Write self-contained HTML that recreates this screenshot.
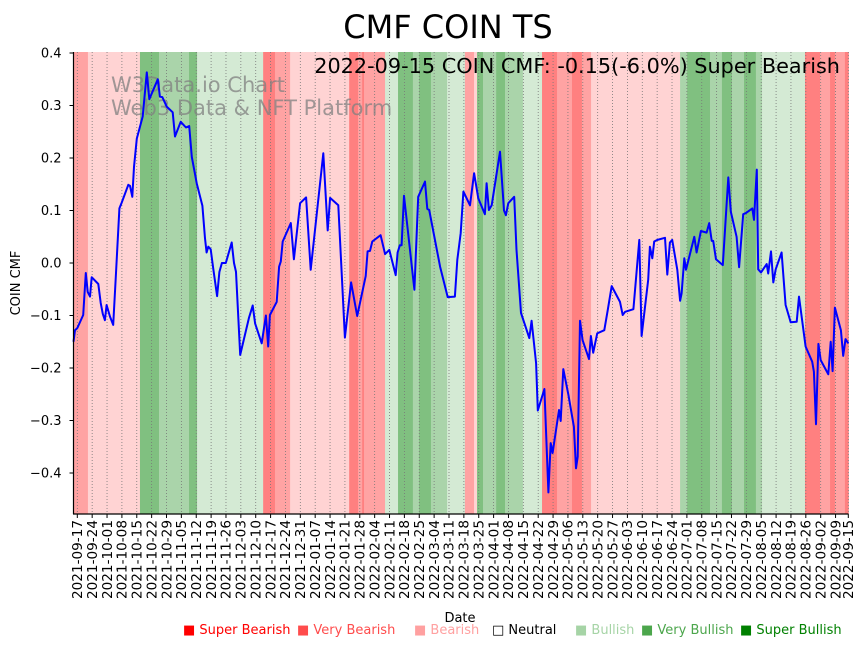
<!DOCTYPE html>
<html><head><meta charset="utf-8"><style>
html,body{margin:0;padding:0;background:#fff;}
svg{display:block;font-family:"DejaVu Sans","Liberation Sans",sans-serif;}
</style></head><body>
<svg id="chart" width="867" height="646" viewBox="0 0 867 646">
<text x="448" y="38" text-anchor="middle" font-size="32">CMF COIN TS</text>
<g id="bands"></g>
<g id="grid"></g>
<text x="111" y="92" font-size="21" fill="#808080" fill-opacity="0.75">W3Data.io Chart</text>
<text x="111" y="115" font-size="21" fill="#808080" fill-opacity="0.75">Web3 Data &amp; NFT Platform</text>
<text x="840" y="73" text-anchor="end" font-size="20.8">2022-09-15 COIN CMF: -0.15(-6.0%) Super Bearish</text>
<polyline id="line" fill="none" stroke="#0000ff" stroke-width="2" stroke-linejoin="round"></polyline>
<g id="yaxis"></g>
<g id="xaxis"></g>
<line x1="73.5" y1="52" x2="73.5" y2="514" stroke="#000" stroke-width="1.2"/>
<line x1="73" y1="514" x2="848.5" y2="514" stroke="#000" stroke-width="1.2"/>
<text transform="translate(20,283) rotate(-90)" text-anchor="middle" font-size="13">COIN CMF</text>
<text x="460" y="622" text-anchor="middle" font-size="13">Date</text>
<g id="legend" font-size="13">
<text x="183" y="634" fill="#ff0000">■ Super Bearish</text>
<text x="297" y="634" fill="#ff4c4c">■ Very Bearish</text>
<text x="414" y="634" fill="#ffa0a0">■ Bearish</text>
<text x="492" y="634" fill="#000">□ Neutral</text>
<text x="575" y="634" fill="#a6d4a6">■ Bullish</text>
<text x="641" y="634" fill="#4ca64c">■ Very Bullish</text>
<text x="740" y="634" fill="#008000">■ Super Bullish</text>
</g>
</svg>
<script>
const tickLabels = ["2021-09-17","2021-09-24","2021-10-01","2021-10-08","2021-10-15","2021-10-22","2021-10-29","2021-11-05","2021-11-12","2021-11-19","2021-11-26","2021-12-03","2021-12-10","2021-12-17","2021-12-24","2021-12-31","2022-01-07","2022-01-14","2022-01-21","2022-01-28","2022-02-04","2022-02-11","2022-02-18","2022-02-25","2022-03-04","2022-03-11","2022-03-18","2022-03-25","2022-04-01","2022-04-08","2022-04-15","2022-04-22","2022-04-29","2022-05-06","2022-05-13","2022-05-20","2022-05-27","2022-06-03","2022-06-10","2022-06-17","2022-06-24","2022-07-01","2022-07-08","2022-07-15","2022-07-22","2022-07-29","2022-08-05","2022-08-12","2022-08-19","2022-08-26","2022-09-02","2022-09-09","2022-09-15"];
const tickDays = [0,7,14,21,28,35,42,49,56,63,70,77,84,91,98,105,112,119,126,133,140,147,154,161,168,175,182,189,196,203,210,217,224,231,238,245,252,259,266,273,280,287,294,301,308,315,322,329,336,343,350,357,363];
const yTicks = [0.4,0.3,0.2,0.1,0.0,-0.1,-0.2,-0.3,-0.4];
const bandStart = [-1.8,5,29.5,38.5,52.6,56.4,87.5,93.1,100.2,128,132.2,134.1,135,144.9,151,158,160.9,166.5,174.1,182.5,186.8,188.2,191,197.2,201.4,209.8,218.8,225.9,232.9,237.6,241.9,283.8,287.1,297.9,303.5,308.2,313.9,319.5,322.4,342.6,349.7,354.4,356.7,361.4];
const bandCat = [2,1,-3,-2,-3,-1,3,2,1,3,2,3,2,-1,-3,-2,-3,-2,-1,2,1,-3,-2,-3,-2,-1,3,2,3,2,1,-2,-3,-2,-3,-2,-3,-2,-1,3,2,3,2,3];
const dayEnd = 363;
const days = [-1.8,-1.1,0,2.8,4,4.9,6,6.8,9.9,11,12,13,13.8,15.4,16.9,18.2,19.8,20.9,24,24.8,25.9,26.7,28,30.8,32.7,33.9,37.9,38.9,40,42.1,44.9,46,48.7,51.2,52.7,53.9,56.2,58.9,60.1,60.9,61.7,62.8,64,65.8,66.9,68.1,69.9,72.7,73.8,74.7,76.7,80.8,82.6,83.7,86.8,88.8,89.9,90.7,93.9,95,95.8,96.7,100.5,102,104.9,107.7,109.9,115.8,117.9,119,122.9,126,128.9,131.8,135.8,136.7,137.8,138.9,142.8,144.9,146.9,149.9,150.8,151.9,152.7,153.8,158.7,160.5,163.7,164.8,165.7,170.8,174.4,177.8,178.9,180.5,181.8,184.9,186.8,188.8,191.9,192.7,193.8,195.1,199,200.9,201.8,202.9,205.7,206.8,208.9,212.8,213.9,216,216.8,219.9,221.8,222.9,223.8,226.8,227.6,228.8,231.2,233.8,234.8,235.6,236.7,237.9,240.9,241.8,242.9,244.8,248.1,249.7,251.6,255.5,256.8,257.9,261.8,264.6,265.7,268.8,269.6,270.7,271.6,273.1,276.7,277.8,279,280.1,282.5,283.8,284.5,285.8,286.6,290.5,291.6,293.6,296.3,297.5,298.7,299.4,300.7,303.9,306.5,307.7,310.4,311.6,313.5,314.8,317.8,318.6,319.9,320.6,321.9,324.6,325.3,326.6,327.7,328.8,331.6,333.5,335.9,338.7,339.8,342.9,346,346.8,347.8,348.9,350,353.6,354.7,355.6,356.7,359.5,360.6,361.7,363];
const cmf = [-0.15,-0.128,-0.124,-0.099,-0.019,-0.055,-0.064,-0.027,-0.04,-0.076,-0.097,-0.109,-0.08,-0.102,-0.118,-0.019,0.104,0.115,0.149,0.147,0.126,0.183,0.237,0.279,0.363,0.312,0.35,0.317,0.316,0.298,0.287,0.241,0.269,0.258,0.261,0.202,0.152,0.109,0.047,0.02,0.031,0.026,-0.01,-0.063,-0.017,0,0,0.039,0,-0.017,-0.175,-0.105,-0.081,-0.115,-0.153,-0.1,-0.159,-0.099,-0.074,-0.007,0.003,0.041,0.076,0.007,0.114,0.125,-0.013,0.209,0.062,0.124,0.11,-0.142,-0.037,-0.101,-0.025,0.022,0.023,0.041,0.053,0.017,0.025,-0.023,0.02,0.034,0.034,0.128,-0.051,0.126,0.155,0.103,0.101,-0.007,-0.065,-0.064,0.006,0.057,0.136,0.11,0.171,0.123,0.093,0.152,0.101,0.11,0.212,0.1,0.091,0.114,0.126,0.025,-0.095,-0.143,-0.11,-0.191,-0.281,-0.24,-0.437,-0.343,-0.362,-0.28,-0.301,-0.202,-0.251,-0.312,-0.391,-0.369,-0.11,-0.147,-0.183,-0.139,-0.171,-0.134,-0.128,-0.09,-0.044,-0.074,-0.099,-0.093,-0.088,0.044,-0.139,-0.032,0.031,0.009,0.041,0.044,0.048,-0.022,0.039,0.044,-0.013,-0.072,-0.058,0.009,-0.013,0.05,0.02,0.061,0.058,0.076,0.042,0.042,0.007,-0.004,0.163,0.098,0.05,-0.008,0.093,0.095,0.104,0.082,0.178,-0.012,-0.018,-0.002,-0.02,0.022,-0.037,-0.012,0.02,-0.08,-0.113,-0.112,-0.064,-0.159,-0.188,-0.207,-0.307,-0.154,-0.185,-0.212,-0.15,-0.206,-0.085,-0.128,-0.177,-0.145,-0.153];

const NS = "http://www.w3.org/2000/svg";
const X0 = 77.3, PXD = 771/363, Y0 = 263, PXV = 525;
const PLOT_L = 73.5, PLOT_R = 848.5, PLOT_T = 52, PLOT_B = 514;
function xScale(d){ return Math.max(PLOT_L, Math.min(PLOT_R, X0 + d*PXD)); }
function yScale(v){ return Y0 - v*PXV; }
const catColor = {"3":"#ff8080","2":"#ffa3a3","1":"#ffd3d3","-1":"#d4ead4","-2":"#aad4aa","-3":"#80c080"};
function mk(tag, attrs, parent){ const e=document.createElementNS(NS,tag); for(const k in attrs) e.setAttribute(k,attrs[k]); parent.appendChild(e); return e; }

const bands = document.getElementById('bands');
for (let i=0;i<bandStart.length;i++){
  const x1 = xScale(bandStart[i]);
  const x2 = xScale(i+1<bandStart.length ? bandStart[i+1] : dayEnd+0.1);
  const r = mk('rect',{x:x1,y:PLOT_T,width:Math.max(0,x2-x1+0.3),height:PLOT_B-PLOT_T,fill:catColor[String(bandCat[i])]},bands);
  
  
}

const grid = document.getElementById('grid');
const xaxis = document.getElementById('xaxis');
for (let i=0;i<tickDays.length;i++){
  const x = xScale(tickDays[i]);
  const g = mk('line',{x1:x,y1:PLOT_T,x2:x,y2:PLOT_B,stroke:'#777','stroke-width':0.8,'stroke-dasharray':'1,2'},grid);
  
  
  const t = mk('line',{x1:x,y1:PLOT_B,x2:x,y2:PLOT_B+4,stroke:'#000','stroke-width':1},xaxis);
  
  
  const lb = mk('text',{x:x,y:520,'text-anchor':'end','font-size':13.6,dy:'0.35em',transform:`rotate(-90 ${x} 520)`},xaxis);
  lb.textContent = tickLabels[i];
  
  
}

const yaxis = document.getElementById('yaxis');
yTicks.forEach(v=>{
  const y = yScale(v);
  const t = mk('line',{x1:PLOT_L-4,y1:y,x2:PLOT_L,y2:y,stroke:'#000','stroke-width':1},yaxis);
  
  
  const lb = mk('text',{x:PLOT_L-12,y:y+4.5,'text-anchor':'end','font-size':13},yaxis);
  lb.textContent = (v<0?'\u2212':'') + Math.abs(v).toFixed(1);
  
  
});

document.getElementById('line').setAttribute('points', days.map((d,i)=>xScale(d).toFixed(1)+','+yScale(cmf[i]).toFixed(1)).join(' '));
</script>
</body></html>
